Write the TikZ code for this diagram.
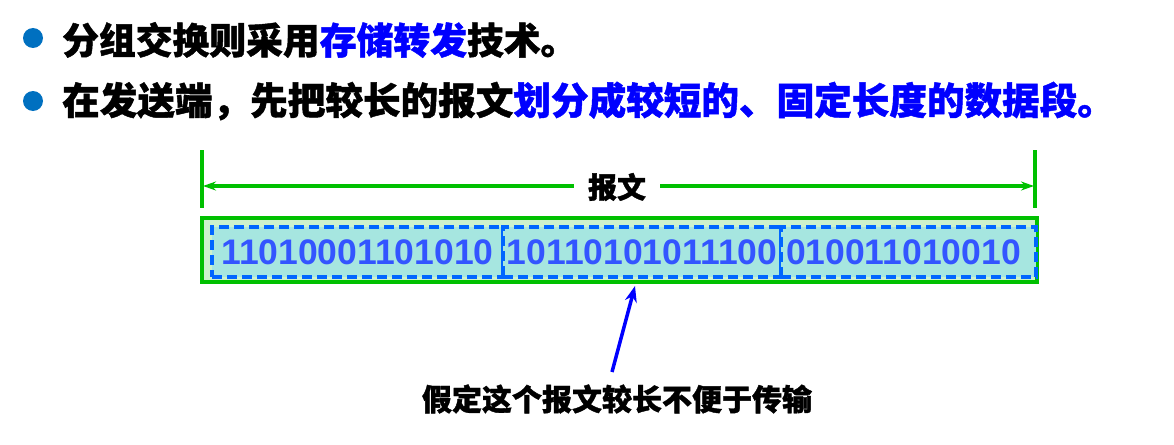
\documentclass[tikz,border=0pt]{standalone}
\usepackage{fontspec}
\setmainfont{Noto Sans CJK SC}[BoldFeatures={FakeBold=1.2}]
\newfontfamily\digitfont{Liberation Sans}
\usetikzlibrary{arrows.meta}
\definecolor{bulletblue}{HTML}{0070C0}
\definecolor{textblue}{HTML}{0000FF}
\definecolor{linegreen}{HTML}{00C000}
\definecolor{outerfill}{HTML}{CCF2CC}
\definecolor{innerfill}{HTML}{A6E6E0}
\definecolor{dashblue}{HTML}{0066FF}
\definecolor{digitblue}{HTML}{3355FF}
\tikzset{
  bulletdot/.style={circle, fill=bulletblue, minimum size=20pt, inner sep=0pt},
  headline/.style={anchor=west, inner sep=0pt, font=\bfseries},
  msglabel/.style={inner ysep=0pt, inner xsep=14pt, font=\fontsize{29}{32}\selectfont\bfseries},
  tickline/.style={draw=linegreen, line width=3.5pt},
  dimarrow/.style={draw=linegreen, line width=3.5pt, -{Stealth[length=13pt,width=9pt]}},
  outerbox/.style={draw=linegreen, fill=outerfill, line width=4pt, minimum width=835pt, minimum height=64pt, inner sep=0pt},
  segbox/.style={draw=dashblue, fill=innerfill, line width=3.5pt, dash pattern=on 10pt off 5pt, minimum height=50pt, inner sep=0pt,
    font=\fontsize{35.5}{38}\selectfont\digitfont\bfseries, text=digitblue},
  notelabel/.style={inner sep=0pt, font=\fontsize{30}{33}\selectfont\bfseries},
  pointarrow/.style={draw=textblue, line width=3.5pt, -{Stealth[length=16pt,width=12pt]}}
}
\begin{document}
\begin{tikzpicture}[x=1pt,y=-1pt]
\useasboundingbox (0,0) rectangle (1174,444);
% bullets and headlines
\node[bulletdot] (b1) at (33,38) {};
\node[bulletdot] (b2) at (33,101) {};
\node[headline] (h1) at (62,40) {\fontsize{36.8}{40}\selectfont 分组交换则采用\textcolor{textblue}{存储转发}技术。};
\node[headline] (h2) at (62,101) {\fontsize{37.6}{40}\selectfont 在发送端，先把较长的报文\textcolor{textblue}{划分成较短的、固定长度的数据段。}};
% dimension line
\coordinate (ltop) at (202,150);
\coordinate (lbot) at (202,208);
\coordinate (rtop) at (1035,150);
\coordinate (rbot) at (1035,208);
\draw[tickline] (ltop) -- (lbot);
\draw[tickline] (rtop) -- (rbot);
\node[msglabel] (lbl) at (617,187) {报文};
\coordinate (lend) at (203,186);
\coordinate (rend) at (1034,186);
\draw[dimarrow] (lbl.west |- lend) -- (lend);
\draw[dimarrow] (lbl.east |- rend) -- (rend);
% boxes
\node[outerbox] (outer) at (619.5,250) {};
\node[segbox, minimum width=291pt] (s1) at (357.5,252) {11010001101010};
\node[segbox, minimum width=278pt] (s2) at (642,252) {10110101011100};
\node[segbox, minimum width=255pt, text width=245pt, align=left] (s3) at (908.5,252) {010011010010};
% note
\node[notelabel] (note) at (617,399) {假定这个报文较长不便于传输};
\coordinate (tail) at (612,372);
\coordinate (tip) at (635,286);
\draw[pointarrow] (tail) -- (tip);
\end{tikzpicture}
\end{document}
